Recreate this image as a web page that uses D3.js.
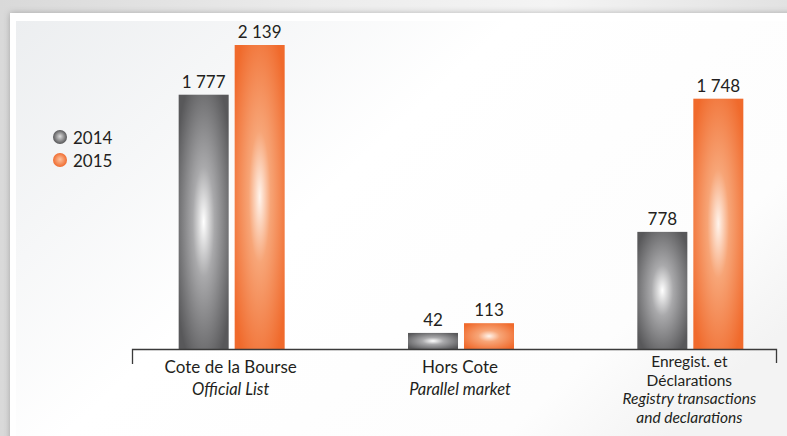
<!DOCTYPE html>
<html>
<head>
  <meta charset="utf-8">
  <title>Cote de la Bourse 2014 / 2015</title>
  <script src="https://cdn.jsdelivr.net/npm/d3@7/dist/d3.min.js"></script>
  <style>
    html, body { margin:0; padding:0; background:#e6e6e6; }
    svg { display:block; font-family:Lato, "Open Sans", sans-serif; }
  </style>
</head>
<body>
<div id="chart"></div>
<script>
  // data
  var categories = ["Cote de la Bourse", "Hors Cote", "Enregist. et Déclarations"];
  var labelLines = [
    [["Cote de la Bourse", false], ["Official List", true]],
    [["Hors Cote", false], ["Parallel market", true]],
    [["Enregist. et", false], ["Déclarations", false], ["Registry transactions", true], ["and declarations", true]]
  ];
  var years = ["2014", "2015"];
  var values2014 = [1777, 42, 778];
  var values2015 = [2139, 113, 1748];
  var valueLabels2014 = ["1 777", "42", "778"];
  var valueLabels2015 = ["2 139", "113", "1 748"];

  var W = 787, H = 436;
  var baseY = 349, topY = 45;

  var svg = d3.select('#chart').append('svg')
    .attr('width', W).attr('height', H);

  var defs = svg.append('defs');

  // page background
  var bg = defs.append('linearGradient').attr('id', 'bg').attr('x1', 0).attr('y1', 0).attr('x2', 1).attr('y2', 0);
  bg.append('stop').attr('offset', '0%').attr('stop-color', '#d9d9d9');
  bg.append('stop').attr('offset', '40%').attr('stop-color', '#ececec');
  bg.append('stop').attr('offset', '70%').attr('stop-color', '#f4f4f4');
  bg.append('stop').attr('offset', '100%').attr('stop-color', '#e2e2e2');

  var inner = defs.append('linearGradient').attr('id', 'inner').attr('x1', 0).attr('y1', 0).attr('x2', 1).attr('y2', 0.6);
  inner.append('stop').attr('offset', '0%').attr('stop-color', '#eceef0');
  inner.append('stop').attr('offset', '45%').attr('stop-color', '#ffffff');
  inner.append('stop').attr('offset', '85%').attr('stop-color', '#fdfdfd');
  inner.append('stop').attr('offset', '100%').attr('stop-color', '#f3f3f3');

  var shadow = defs.append('filter').attr('id', 'shadow').attr('x', '-5%').attr('y', '-5%').attr('width', '110%').attr('height', '110%');
  shadow.append('feDropShadow').attr('dx', 0).attr('dy', 0).attr('stdDeviation', 3)
    .attr('flood-color', '#000').attr('flood-opacity', 0.25);

  function barGradient(id, edge, mid, centre) {
    var g = defs.append('radialGradient').attr('id', id)
      .attr('cx', '50%').attr('cy', '50%').attr('r', '62%');
    g.append('stop').attr('offset', '0%').attr('stop-color', centre);
    g.append('stop').attr('offset', '35%').attr('stop-color', mid);
    g.append('stop').attr('offset', '100%').attr('stop-color', edge);
  }
  barGradient('g2014', '#58585a', '#a9a9ab', '#ffffff');
  barGradient('g2015', '#f06a2c', '#f7a577', '#fff4ec');

  var legendGrad = function(id, edge, centre) {
    var g = defs.append('radialGradient').attr('id', id)
      .attr('cx', '50%').attr('cy', '50%').attr('r', '55%').attr('fx', '50%').attr('fy', '45%');
    g.append('stop').attr('offset', '0%').attr('stop-color', centre);
    g.append('stop').attr('offset', '100%').attr('stop-color', edge);
  };
  legendGrad('l2014', '#4a4a4c', '#dcdcdc');
  legendGrad('l2015', '#ef6425', '#fcc3a0');

  svg.append('rect').attr('width', W).attr('height', H).attr('fill', 'url(#bg)');
  svg.append('rect').attr('x', 10).attr('y', 13).attr('width', 820).attr('height', 460)
    .attr('fill', '#ffffff').attr('filter', 'url(#shadow)');
  svg.append('rect').attr('x', 16).attr('y', 21).attr('width', 810).attr('height', 450)
    .attr('fill', 'url(#inner)');

  // scales
  var x0 = d3.scaleBand().domain(categories).range([117, 805]);
  var x1 = d3.scaleBand().domain(years).range([0, 106]).paddingInner(0.107);
  var y = d3.scaleLinear().domain([-75, 2139]).range([baseY, topY]);

  var rows = categories.map(function(c, i) {
    return {
      cat: c,
      bars: [
        {year: '2014', v: values2014[i], label: valueLabels2014[i]},
        {year: '2015', v: values2015[i], label: valueLabels2015[i]}
      ]
    };
  });

  var groups = svg.selectAll('g.grp').data(rows).enter().append('g')
    .attr('class', 'grp')
    .attr('transform', function(d) { return 'translate(' + (x0(d.cat) + x0.bandwidth() / 2 - 53) + ',0)'; });

  groups.selectAll('rect').data(function(d) { return d.bars; }).enter().append('rect')
    .attr('x', function(d) { return x1(d.year); })
    .attr('y', function(d) { return y(d.v); })
    .attr('width', x1.bandwidth())
    .attr('height', function(d) { return baseY - y(d.v); })
    .attr('fill', function(d) { return 'url(#g' + d.year + ')'; });

  groups.selectAll('text.val').data(function(d) { return d.bars; }).enter().append('text')
    .attr('class', 'val')
    .attr('x', function(d) { return x1(d.year) + x1.bandwidth() / 2; })
    .attr('y', function(d) { return y(d.v) - 7; })
    .attr('text-anchor', 'middle')
    .attr('font-size', 17)
    .attr('fill', '#231f20')
    .text(function(d) { return d.label; });

  // axis line with end ticks
  svg.append('path')
    .attr('d', 'M132.5,364V349.5H776.5V363')
    .attr('fill', 'none').attr('stroke', '#3a3a3a').attr('stroke-width', 1.3);

  // category labels
  groups.each(function(d, i) {
    var lines = labelLines[i];
    var tight = lines.length > 2;
    var first = tight ? 367 : 373;
    var step = tight ? 18.6 : 21.5;
    var t = d3.select(this).append('text')
      .attr('text-anchor', 'middle')
      .attr('fill', '#231f20');
    lines.forEach(function(l, k) {
      t.append('tspan')
        .attr('x', 52)
        .attr('y', first + k * step)
        .attr('font-size', tight ? 15.5 : (l[1] ? 16.5 : 17))
        .attr('font-style', l[1] ? 'italic' : 'normal')
        .text(l[0]);
    });
  });

  // legend
  var legend = svg.selectAll('g.leg').data(years).enter().append('g')
    .attr('class', 'leg')
    .attr('transform', function(d, i) { return 'translate(60,' + (137 + i * 23) + ')'; });
  legend.append('circle').attr('r', 7).attr('fill', function(d) { return 'url(#l' + d + ')'; });
  legend.append('text').attr('x', 13).attr('y', 6.5)
    .attr('font-size', 17).attr('fill', '#231f20')
    .text(function(d) { return d; });
</script>
</body>
</html>
